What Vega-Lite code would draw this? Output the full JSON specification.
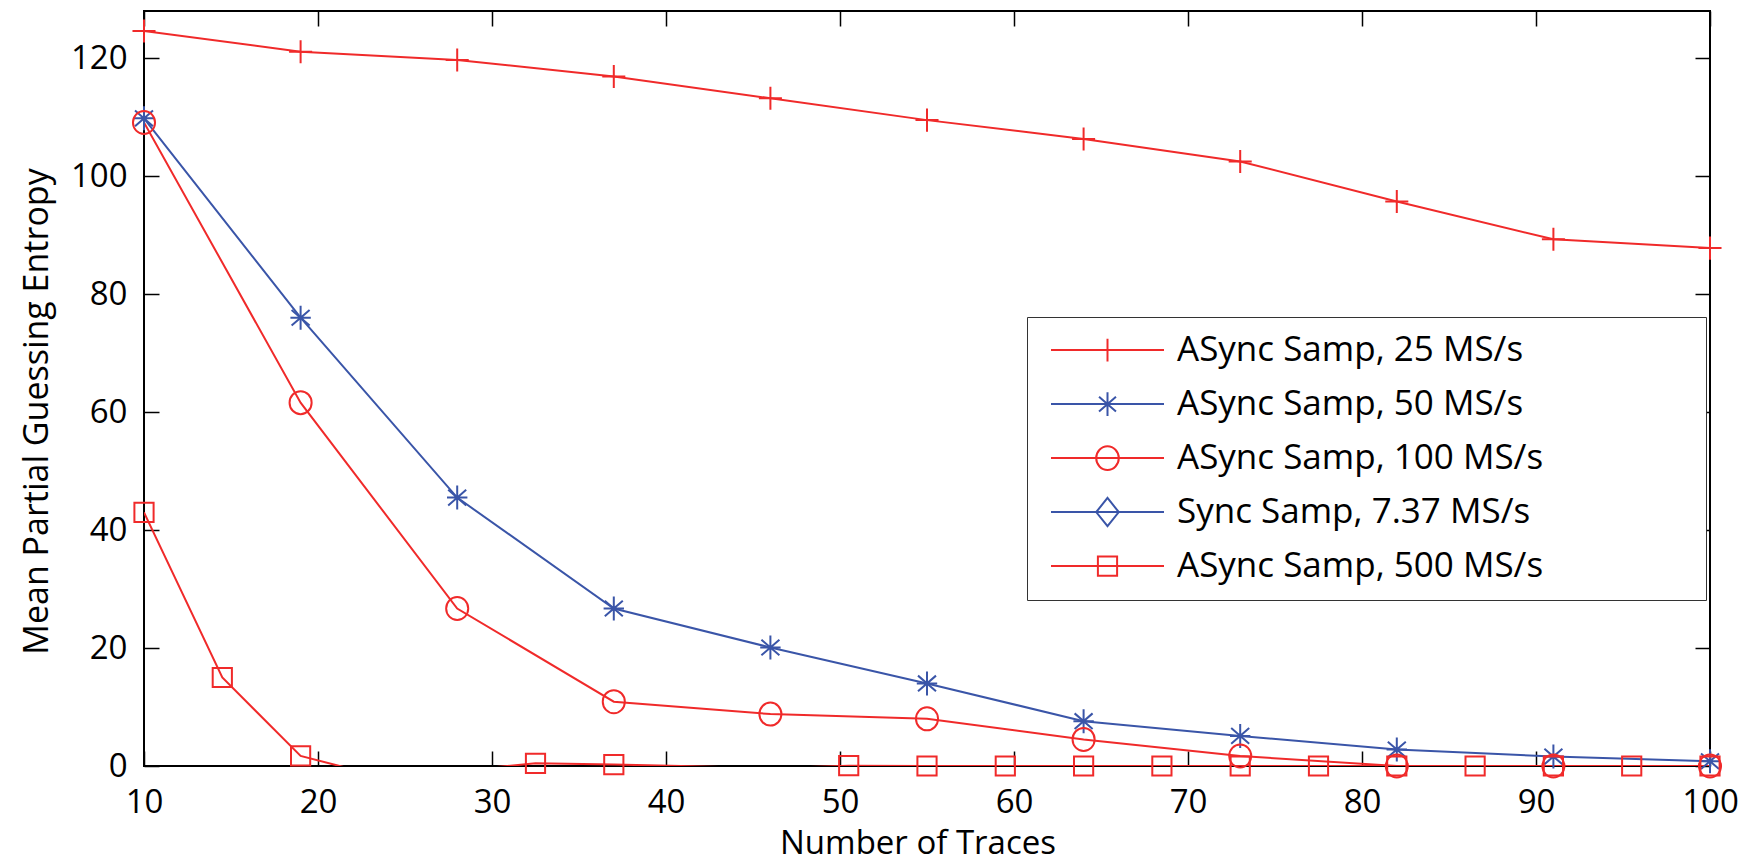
{
  "$schema": "https://vega.github.io/schema/vega-lite/v6.json",
  "width": 1566,
  "height": 755,
  "autosize": {"type": "none"},
  "padding": {"left": 144, "top": 11, "right": 37, "bottom": 98},
  "background": "white",
  "datasets": {
    "traces": [
      {"series": "ASync Samp, 25 MS/s", "traces": 10, "entropy": 124.6},
      {"series": "ASync Samp, 25 MS/s", "traces": 19, "entropy": 121.1},
      {"series": "ASync Samp, 25 MS/s", "traces": 28, "entropy": 119.7},
      {"series": "ASync Samp, 25 MS/s", "traces": 37, "entropy": 116.9},
      {"series": "ASync Samp, 25 MS/s", "traces": 46, "entropy": 113.2},
      {"series": "ASync Samp, 25 MS/s", "traces": 55, "entropy": 109.5},
      {"series": "ASync Samp, 25 MS/s", "traces": 64, "entropy": 106.3},
      {"series": "ASync Samp, 25 MS/s", "traces": 73, "entropy": 102.5},
      {"series": "ASync Samp, 25 MS/s", "traces": 82, "entropy": 95.7},
      {"series": "ASync Samp, 25 MS/s", "traces": 91, "entropy": 89.3},
      {"series": "ASync Samp, 25 MS/s", "traces": 100, "entropy": 87.8},
      {"series": "ASync Samp, 50 MS/s", "traces": 10, "entropy": 109.8},
      {"series": "ASync Samp, 50 MS/s", "traces": 19, "entropy": 76.0},
      {"series": "ASync Samp, 50 MS/s", "traces": 28, "entropy": 45.5},
      {"series": "ASync Samp, 50 MS/s", "traces": 37, "entropy": 26.7},
      {"series": "ASync Samp, 50 MS/s", "traces": 46, "entropy": 20.1},
      {"series": "ASync Samp, 50 MS/s", "traces": 55, "entropy": 14.0},
      {"series": "ASync Samp, 50 MS/s", "traces": 64, "entropy": 7.6},
      {"series": "ASync Samp, 50 MS/s", "traces": 73, "entropy": 5.1},
      {"series": "ASync Samp, 50 MS/s", "traces": 82, "entropy": 2.8},
      {"series": "ASync Samp, 50 MS/s", "traces": 91, "entropy": 1.6},
      {"series": "ASync Samp, 50 MS/s", "traces": 100, "entropy": 0.8},
      {"series": "ASync Samp, 100 MS/s", "traces": 10, "entropy": 109.1},
      {"series": "ASync Samp, 100 MS/s", "traces": 19, "entropy": 61.6},
      {"series": "ASync Samp, 100 MS/s", "traces": 28, "entropy": 26.7},
      {"series": "ASync Samp, 100 MS/s", "traces": 37, "entropy": 10.9},
      {"series": "ASync Samp, 100 MS/s", "traces": 46, "entropy": 8.8},
      {"series": "ASync Samp, 100 MS/s", "traces": 55, "entropy": 8.0},
      {"series": "ASync Samp, 100 MS/s", "traces": 64, "entropy": 4.5},
      {"series": "ASync Samp, 100 MS/s", "traces": 73, "entropy": 1.7},
      {"series": "ASync Samp, 100 MS/s", "traces": 82, "entropy": 0},
      {"series": "ASync Samp, 100 MS/s", "traces": 91, "entropy": 0},
      {"series": "ASync Samp, 100 MS/s", "traces": 100, "entropy": 0},
      {"series": "ASync Samp, 500 MS/s", "traces": 10, "entropy": 43.0},
      {"series": "ASync Samp, 500 MS/s", "traces": 14.5, "entropy": 15.0},
      {"series": "ASync Samp, 500 MS/s", "traces": 19, "entropy": 1.7},
      {"series": "ASync Samp, 500 MS/s", "traces": 23.5, "entropy": -1.7},
      {"series": "ASync Samp, 500 MS/s", "traces": 28, "entropy": -0.8},
      {"series": "ASync Samp, 500 MS/s", "traces": 32.5, "entropy": 0.45},
      {"series": "ASync Samp, 500 MS/s", "traces": 37, "entropy": 0.25},
      {"series": "ASync Samp, 500 MS/s", "traces": 41.5, "entropy": -0.05},
      {"series": "ASync Samp, 500 MS/s", "traces": 46, "entropy": -0.4},
      {"series": "ASync Samp, 500 MS/s", "traces": 50.5, "entropy": 0.05},
      {"series": "ASync Samp, 500 MS/s", "traces": 55, "entropy": 0},
      {"series": "ASync Samp, 500 MS/s", "traces": 59.5, "entropy": 0},
      {"series": "ASync Samp, 500 MS/s", "traces": 64, "entropy": 0},
      {"series": "ASync Samp, 500 MS/s", "traces": 68.5, "entropy": 0},
      {"series": "ASync Samp, 500 MS/s", "traces": 73, "entropy": 0},
      {"series": "ASync Samp, 500 MS/s", "traces": 77.5, "entropy": 0},
      {"series": "ASync Samp, 500 MS/s", "traces": 82, "entropy": 0},
      {"series": "ASync Samp, 500 MS/s", "traces": 86.5, "entropy": 0},
      {"series": "ASync Samp, 500 MS/s", "traces": 91, "entropy": 0},
      {"series": "ASync Samp, 500 MS/s", "traces": 95.5, "entropy": 0},
      {"series": "ASync Samp, 500 MS/s", "traces": 100, "entropy": 0}
    ]
  },
  "data": {"name": "traces"},
  "layer": [
    {
      "mark": {"type": "line", "clip": true, "strokeWidth": 2},
      "encoding": {
        "x": {
          "field": "traces", "type": "quantitative",
          "scale": {"domain": [10, 100], "nice": false, "zero": false},
          "axis": {"orient": "bottom", "values": [10, 20, 30, 40, 50, 60, 70, 80, 90, 100], "labelFlush": false, "labelPadding": 35, "title": "Number of Traces", "titlePadding": 8, "titleX": 773.5}
        },
        "y": {
          "field": "entropy", "type": "quantitative",
          "scale": {"domain": [0, 128], "nice": false, "zero": false},
          "axis": {"orient": "left", "values": [0, 20, 40, 60, 80, 100, 120], "labelPadding": 32, "title": "Mean Partial Guessing Entropy", "titlePadding": 16, "titleY": 400, "titleFontSize": 34}
        },
        "color": {
          "field": "series", "type": "nominal",
          "scale": {
            "domain": ["ASync Samp, 25 MS/s", "ASync Samp, 50 MS/s", "ASync Samp, 100 MS/s", "Sync Samp, 7.37 MS/s", "ASync Samp, 500 MS/s"],
            "range": ["#f02a2a", "#3a55a8", "#f02a2a", "#3a55a8", "#f02a2a"]
          },
          "legend": {
            "orient": "none", "legendX": 883, "legendY": 306, "title": null,
            "padding": 6.5, "strokeColor": "#333333", "fillColor": "white",
            "symbolSize": 12769, "symbolStrokeWidth": 2, "symbolOffset": 16.5,
            "labelOffset": 12, "labelFont": "Open Sans", "labelFontSize": 35, "labelColor": "black",
            "labelLimit": 0, "clipHeight": 53.2, "rowPadding": 0,
            "labelExpr": "datum.label + '\u2800\u2800\u2800\u2800\u2800\u2800'",
            "encode": {
              "symbols": {
                "update": {
                  "size": {"value": 12769},
                  "shape": {"signal": "['M-1,0H1M0,-0.2V0.2', 'M-1,0H1M0,-0.21V0.21M-0.15,-0.13L0.15,0.13M-0.15,0.13L0.15,-0.13', 'M-1,0H1M0.2,0C0.2,0.116,0.11,0.21,0,0.21C-0.11,0.21,-0.2,0.116,-0.2,0C-0.2,-0.116,-0.11,-0.21,0,-0.21C0.11,-0.21,0.2,-0.116,0.2,0Z', 'M-1,0H1M0,-0.25L0.2,0L0,0.25L-0.2,0Z', 'M-1,0H1M-0.17,-0.17H0.17V0.17H-0.17Z'][datum.index]"},
                  "fill": {"value": "transparent"}
                }
              }
            }
          }
        },
        "detail": {"field": "series"}
      }
    },
    {
      "transform": [{"filter": "datum.series === 'ASync Samp, 25 MS/s' && datum.entropy >= 0"}],
      "mark": {"type": "point", "filled": false, "strokeWidth": 2, "size": 576, "opacity": 1, "clip": false, "color": "#f02a2a", "shape": "M0,-0.96V0.96M-0.96,0H0.96"},
      "encoding": {
        "x": {
          "field": "traces", "type": "quantitative",
          "axis": {"orient": "top", "values": [10, 20, 30, 40, 50, 60, 70, 80, 90, 100], "labels": false, "title": null}
        },
        "y": {
          "field": "entropy", "type": "quantitative",
          "axis": {"orient": "right", "values": [0, 20, 40, 60, 80, 100, 120], "labels": false, "title": null}
        }
      }
    },
    {
      "transform": [{"filter": "datum.series === 'ASync Samp, 50 MS/s' && datum.entropy >= 0"}],
      "mark": {"type": "point", "filled": false, "strokeWidth": 2, "size": 576, "opacity": 1, "clip": false, "color": "#3a55a8", "shape": "M0,-1V1M-0.85,0H0.85M-0.75,-0.65L0.75,0.65M-0.75,0.65L0.75,-0.65"},
      "encoding": {
        "x": {"field": "traces", "type": "quantitative", "axis": null},
        "y": {"field": "entropy", "type": "quantitative", "axis": null}
      }
    },
    {
      "transform": [{"filter": "datum.series === 'ASync Samp, 100 MS/s' && datum.entropy >= 0"}],
      "mark": {"type": "point", "filled": false, "strokeWidth": 2, "size": 576, "opacity": 1, "clip": false, "color": "#f02a2a", "shape": "M0.92,0A0.92,0.96,0,1,1,-0.92,0A0.92,0.96,0,1,1,0.92,0Z"},
      "encoding": {
        "x": {"field": "traces", "type": "quantitative", "axis": null},
        "y": {"field": "entropy", "type": "quantitative", "axis": null}
      }
    },
    {
      "transform": [{"filter": "datum.series === 'ASync Samp, 500 MS/s' && datum.entropy >= 0"}],
      "mark": {"type": "point", "filled": false, "strokeWidth": 2, "size": 576, "opacity": 1, "clip": false, "color": "#f02a2a", "shape": "M-0.8,-0.8H0.8V0.8H-0.8Z"},
      "encoding": {
        "x": {"field": "traces", "type": "quantitative", "axis": null},
        "y": {"field": "entropy", "type": "quantitative", "axis": null}
      }
    }
  ],
  "resolve": {"axis": {"x": "independent", "y": "independent"}},
  "config": {
    "view": {"stroke": "black", "strokeWidth": 2},
    "font": "Open Sans",
    "axis": {
      "domain": false, "grid": false, "tickColor": "black", "tickWidth": 1.5, "tickSize": -15,
      "labelFont": "Open Sans", "labelFontSize": 33, "labelColor": "black",
      "titleFont": "Open Sans", "titleFontSize": 33, "titleFontWeight": "normal", "titleColor": "black"
    }
  }
}
